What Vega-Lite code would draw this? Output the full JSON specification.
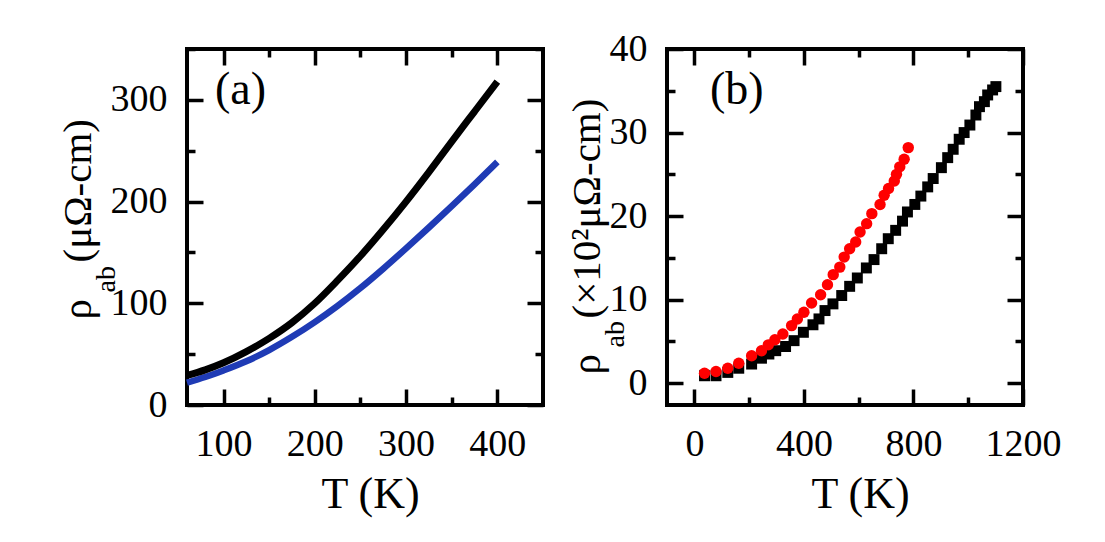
{
  "$schema": "https://vega.github.io/schema/vega-lite/v6.json",
  "background": "white",
  "padding": {"left": 55, "top": 28, "right": 0, "bottom": 0},
  "spacing": 124,
  "bounds": "flush",
  "config": {
    "view": {"stroke": "black", "strokeWidth": 4},
    "axis": {
      "domain": false,
      "grid": false,
      "ticks": true,
      "tickSize": -16,
      "tickCap": "butt",
      "labelFont": "Liberation Serif",
      "labelFontSize": 38,
      "labelColor": "black",
      "labelFlush": false,
      "labelOverlap": false,
      "labelPadding": 36,
      "format": "d",
      "tickColor": "black",
      "tickWidth": 3.5,
      "titleFont": "Liberation Serif",
      "titleFontWeight": "normal",
      "titleColor": "black"
    },
    "title": {"font": "Liberation Serif", "fontWeight": "normal", "color": "black", "fontSize": 46}
  },
  "datasets": {
    "panelA": [
      {"T": 60, "rho": 29, "sample": "S1"}, {"T": 80, "rho": 34.5, "sample": "S1"},
      {"T": 100, "rho": 41.5, "sample": "S1"}, {"T": 125, "rho": 52.5, "sample": "S1"},
      {"T": 150, "rho": 65.5, "sample": "S1"}, {"T": 175, "rho": 81, "sample": "S1"},
      {"T": 200, "rho": 100, "sample": "S1"}, {"T": 225, "rho": 122.5, "sample": "S1"},
      {"T": 250, "rho": 146.5, "sample": "S1"}, {"T": 275, "rho": 172.5, "sample": "S1"},
      {"T": 300, "rho": 200, "sample": "S1"}, {"T": 325, "rho": 229, "sample": "S1"},
      {"T": 350, "rho": 259, "sample": "S1"}, {"T": 375, "rho": 288.5, "sample": "S1"},
      {"T": 400, "rho": 318, "sample": "S1"},
      {"T": 60, "rho": 22, "sample": "S2"}, {"T": 80, "rho": 27.5, "sample": "S2"},
      {"T": 100, "rho": 34, "sample": "S2"}, {"T": 125, "rho": 43, "sample": "S2"},
      {"T": 150, "rho": 54, "sample": "S2"}, {"T": 175, "rho": 67, "sample": "S2"},
      {"T": 200, "rho": 81.5, "sample": "S2"}, {"T": 225, "rho": 97.5, "sample": "S2"},
      {"T": 250, "rho": 115, "sample": "S2"}, {"T": 275, "rho": 134, "sample": "S2"},
      {"T": 300, "rho": 154, "sample": "S2"}, {"T": 325, "rho": 174.5, "sample": "S2"},
      {"T": 350, "rho": 195.5, "sample": "S2"}, {"T": 375, "rho": 217, "sample": "S2"},
      {"T": 400, "rho": 239, "sample": "S2"}
    ],
    "panelB": [
      {"T": 37, "rho": 0.9, "sample": "S1"}, {"T": 79, "rho": 0.9, "sample": "S1"},
      {"T": 122, "rho": 1.3, "sample": "S1"}, {"T": 162, "rho": 1.8, "sample": "S1"},
      {"T": 209, "rho": 2.3, "sample": "S1"}, {"T": 245, "rho": 3.0, "sample": "S1"},
      {"T": 272, "rho": 3.5, "sample": "S1"}, {"T": 297, "rho": 3.9, "sample": "S1"},
      {"T": 333, "rho": 4.4, "sample": "S1"}, {"T": 364, "rho": 5.1, "sample": "S1"},
      {"T": 398, "rho": 6.1, "sample": "S1"}, {"T": 433, "rho": 7.0, "sample": "S1"},
      {"T": 455, "rho": 7.7, "sample": "S1"}, {"T": 477, "rho": 8.7, "sample": "S1"},
      {"T": 506, "rho": 9.5, "sample": "S1"}, {"T": 538, "rho": 10.5, "sample": "S1"},
      {"T": 567, "rho": 11.6, "sample": "S1"}, {"T": 595, "rho": 12.6, "sample": "S1"},
      {"T": 628, "rho": 13.8, "sample": "S1"}, {"T": 656, "rho": 14.8, "sample": "S1"},
      {"T": 684, "rho": 16.1, "sample": "S1"}, {"T": 708, "rho": 17.3, "sample": "S1"},
      {"T": 735, "rho": 18.3, "sample": "S1"}, {"T": 760, "rho": 19.4, "sample": "S1"},
      {"T": 778, "rho": 20.5, "sample": "S1"}, {"T": 805, "rho": 21.4, "sample": "S1"},
      {"T": 827, "rho": 22.4, "sample": "S1"}, {"T": 852, "rho": 23.5, "sample": "S1"},
      {"T": 872, "rho": 24.5, "sample": "S1"}, {"T": 902, "rho": 25.8, "sample": "S1"},
      {"T": 925, "rho": 27.0, "sample": "S1"}, {"T": 945, "rho": 28.0, "sample": "S1"},
      {"T": 967, "rho": 29.2, "sample": "S1"}, {"T": 985, "rho": 30.0, "sample": "S1"},
      {"T": 1006, "rho": 30.9, "sample": "S1"}, {"T": 1028, "rho": 32.1, "sample": "S1"},
      {"T": 1041, "rho": 33.1, "sample": "S1"}, {"T": 1059, "rho": 33.7, "sample": "S1"},
      {"T": 1071, "rho": 34.5, "sample": "S1"}, {"T": 1089, "rho": 35.1, "sample": "S1"},
      {"T": 1101, "rho": 35.5, "sample": "S1"},
      {"T": 37, "rho": 1.2, "sample": "S2"}, {"T": 79, "rho": 1.4, "sample": "S2"},
      {"T": 122, "rho": 1.8, "sample": "S2"}, {"T": 162, "rho": 2.4, "sample": "S2"},
      {"T": 209, "rho": 3.3, "sample": "S2"}, {"T": 245, "rho": 3.9, "sample": "S2"},
      {"T": 270, "rho": 4.6, "sample": "S2"}, {"T": 294, "rho": 5.2, "sample": "S2"},
      {"T": 323, "rho": 5.9, "sample": "S2"}, {"T": 355, "rho": 6.9, "sample": "S2"},
      {"T": 376, "rho": 7.7, "sample": "S2"}, {"T": 400, "rho": 8.5, "sample": "S2"},
      {"T": 428, "rho": 9.6, "sample": "S2"}, {"T": 461, "rho": 10.6, "sample": "S2"},
      {"T": 486, "rho": 11.8, "sample": "S2"}, {"T": 507, "rho": 13.0, "sample": "S2"},
      {"T": 531, "rho": 13.9, "sample": "S2"}, {"T": 547, "rho": 15.1, "sample": "S2"},
      {"T": 567, "rho": 16.1, "sample": "S2"}, {"T": 589, "rho": 16.9, "sample": "S2"},
      {"T": 605, "rho": 18.1, "sample": "S2"}, {"T": 629, "rho": 19.1, "sample": "S2"},
      {"T": 648, "rho": 20.3, "sample": "S2"}, {"T": 678, "rho": 21.4, "sample": "S2"},
      {"T": 693, "rho": 22.5, "sample": "S2"}, {"T": 709, "rho": 23.3, "sample": "S2"},
      {"T": 730, "rho": 24.2, "sample": "S2"}, {"T": 738, "rho": 25.0, "sample": "S2"},
      {"T": 750, "rho": 25.9, "sample": "S2"}, {"T": 766, "rho": 26.8, "sample": "S2"},
      {"T": 781, "rho": 28.2, "sample": "S2"}
    ]
  },
  "hconcat": [
    {
      "width": 356,
      "height": 356,
      "title": {"text": "(a)", "anchor": "start", "frame": "group", "offset": 0, "dx": 28, "dy": 120, "baseline": "alphabetic"},
      "data": {"name": "panelA"},
      "layer": [
        {
          "transform": [{"filter": "datum.sample === 'S2'"}],
          "mark": {"type": "line", "color": "#1f3bb5", "strokeWidth": 6.5, "interpolate": "monotone"},
          "encoding": {
            "x": {
              "field": "T", "type": "quantitative",
              "scale": {"domain": [60, 450], "nice": false, "zero": false},
              "axis": {
                "orient": "bottom",
                "values": [100, 150, 200, 250, 300, 350, 400],
                "tickDash": {"condition": {"test": "datum.value % 100 !== 0", "value": [8, 100]}, "value": []},
                "labelExpr": "datum.value % 100 === 0 ? datum.label : ''",
                "title": "T (K)", "titleFontSize": 44, "titleAngle": 0,
                "titleAlign": "center", "titleBaseline": "alphabetic",
                "titleX": 183, "titleY": 102
              }
            },
            "y": {
              "field": "rho", "type": "quantitative",
              "scale": {"domain": [0, 350], "nice": false, "zero": false},
              "axis": {
                "orient": "left",
                "values": [0, 50, 100, 150, 200, 250, 300, 350],
                "tickDash": {"condition": {"test": "datum.value % 100 !== 0", "value": [8, 100]}, "value": []},
                "labelExpr": "datum.value % 100 === 0 ? datum.label : ''",
                "title": "ρ", "titleFontSize": 41, "titleAngle": -90,
                "titleAlign": "left", "titleBaseline": "alphabetic",
                "titleX": -97, "titleY": 270
              }
            }
          }
        },
        {
          "transform": [{"filter": "datum.sample === 'S1'"}],
          "mark": {"type": "line", "color": "black", "strokeWidth": 7, "interpolate": "monotone"},
          "encoding": {
            "x": {
              "field": "T", "type": "quantitative",
              "scale": {"domain": [60, 450], "nice": false, "zero": false},
              "axis": {
                "orient": "top",
                "values": [100, 150, 200, 250, 300, 350, 400],
                "tickDash": {"condition": {"test": "datum.value % 100 !== 0", "value": [8, 100]}, "value": []},
                "labels": false,
                "title": "(μΩ-cm)", "titleFontSize": 41, "titleAngle": -90,
                "titleAlign": "left", "titleBaseline": "alphabetic",
                "titleX": -97, "titleY": 213
              }
            },
            "y": {
              "field": "rho", "type": "quantitative",
              "scale": {"domain": [0, 350], "nice": false, "zero": false},
              "axis": {
                "orient": "right",
                "values": [0, 50, 100, 150, 200, 250, 300, 350],
                "tickDash": {"condition": {"test": "datum.value % 100 !== 0", "value": [8, 100]}, "value": []},
                "labels": false,
                "title": "ab", "titleFontSize": 28, "titleAngle": -90,
                "titleAlign": "left", "titleBaseline": "alphabetic",
                "titleX": -429, "titleY": 243
              }
            }
          }
        }
      ],
      "resolve": {"axis": {"x": "independent", "y": "independent"}}
    },
    {
      "width": 356,
      "height": 356,
      "title": {"text": "(b)", "anchor": "start", "frame": "group", "offset": 0, "dx": 43, "dy": 120, "baseline": "alphabetic"},
      "data": {"name": "panelB"},
      "layer": [
        {
          "transform": [{"filter": "datum.sample === 'S1'"}],
          "mark": {"type": "point", "shape": "square", "filled": true, "opacity": 1, "color": "black", "size": 120},
          "encoding": {
            "x": {
              "field": "T", "type": "quantitative",
              "scale": {"domain": [-100, 1200], "nice": false, "zero": false},
              "axis": {
                "orient": "bottom",
                "values": [0, 200, 400, 600, 800, 1000, 1200],
                "tickDash": {"condition": {"test": "datum.value % 400 !== 0", "value": [8, 100]}, "value": []},
                "labelExpr": "datum.value % 400 === 0 ? datum.label : ''",
                "title": "T (K)", "titleFontSize": 44, "titleAngle": 0,
                "titleAlign": "center", "titleBaseline": "alphabetic",
                "titleX": 193, "titleY": 102
              }
            },
            "y": {
              "field": "rho", "type": "quantitative",
              "scale": {"domain": [-2.6, 40], "nice": false, "zero": false},
              "axis": {
                "orient": "left",
                "values": [0, 5, 10, 15, 20, 25, 30, 35, 40],
                "tickDash": {"condition": {"test": "datum.value % 10 !== 0", "value": [8, 100]}, "value": []},
                "labelExpr": "datum.value % 10 === 0 ? datum.label : ''",
                "title": "ρ", "titleFontSize": 41, "titleAngle": -90,
                "titleAlign": "left", "titleBaseline": "alphabetic",
                "titleX": -68, "titleY": 325
              }
            }
          }
        },
        {
          "transform": [{"filter": "datum.sample === 'S2'"}],
          "mark": {"type": "point", "shape": "circle", "filled": true, "opacity": 1, "color": "#ff0000", "size": 130},
          "encoding": {
            "x": {
              "field": "T", "type": "quantitative",
              "scale": {"domain": [-100, 1200], "nice": false, "zero": false},
              "axis": {
                "orient": "top",
                "values": [0, 200, 400, 600, 800, 1000, 1200],
                "tickDash": {"condition": {"test": "datum.value % 400 !== 0", "value": [8, 100]}, "value": []},
                "labels": false,
                "title": "(×10²μΩ-cm)", "titleFontSize": 41, "titleAngle": -90,
                "titleAlign": "left", "titleBaseline": "alphabetic",
                "titleX": -68, "titleY": 269
              }
            },
            "y": {
              "field": "rho", "type": "quantitative",
              "scale": {"domain": [-2.6, 40], "nice": false, "zero": false},
              "axis": {
                "orient": "right",
                "values": [0, 5, 10, 15, 20, 25, 30, 35, 40],
                "tickDash": {"condition": {"test": "datum.value % 10 !== 0", "value": [8, 100]}, "value": []},
                "labels": false,
                "title": "ab", "titleFontSize": 28, "titleAngle": -90,
                "titleAlign": "left", "titleBaseline": "alphabetic",
                "titleX": -400, "titleY": 298
              }
            }
          }
        }
      ],
      "resolve": {"axis": {"x": "independent", "y": "independent"}}
    }
  ]
}
